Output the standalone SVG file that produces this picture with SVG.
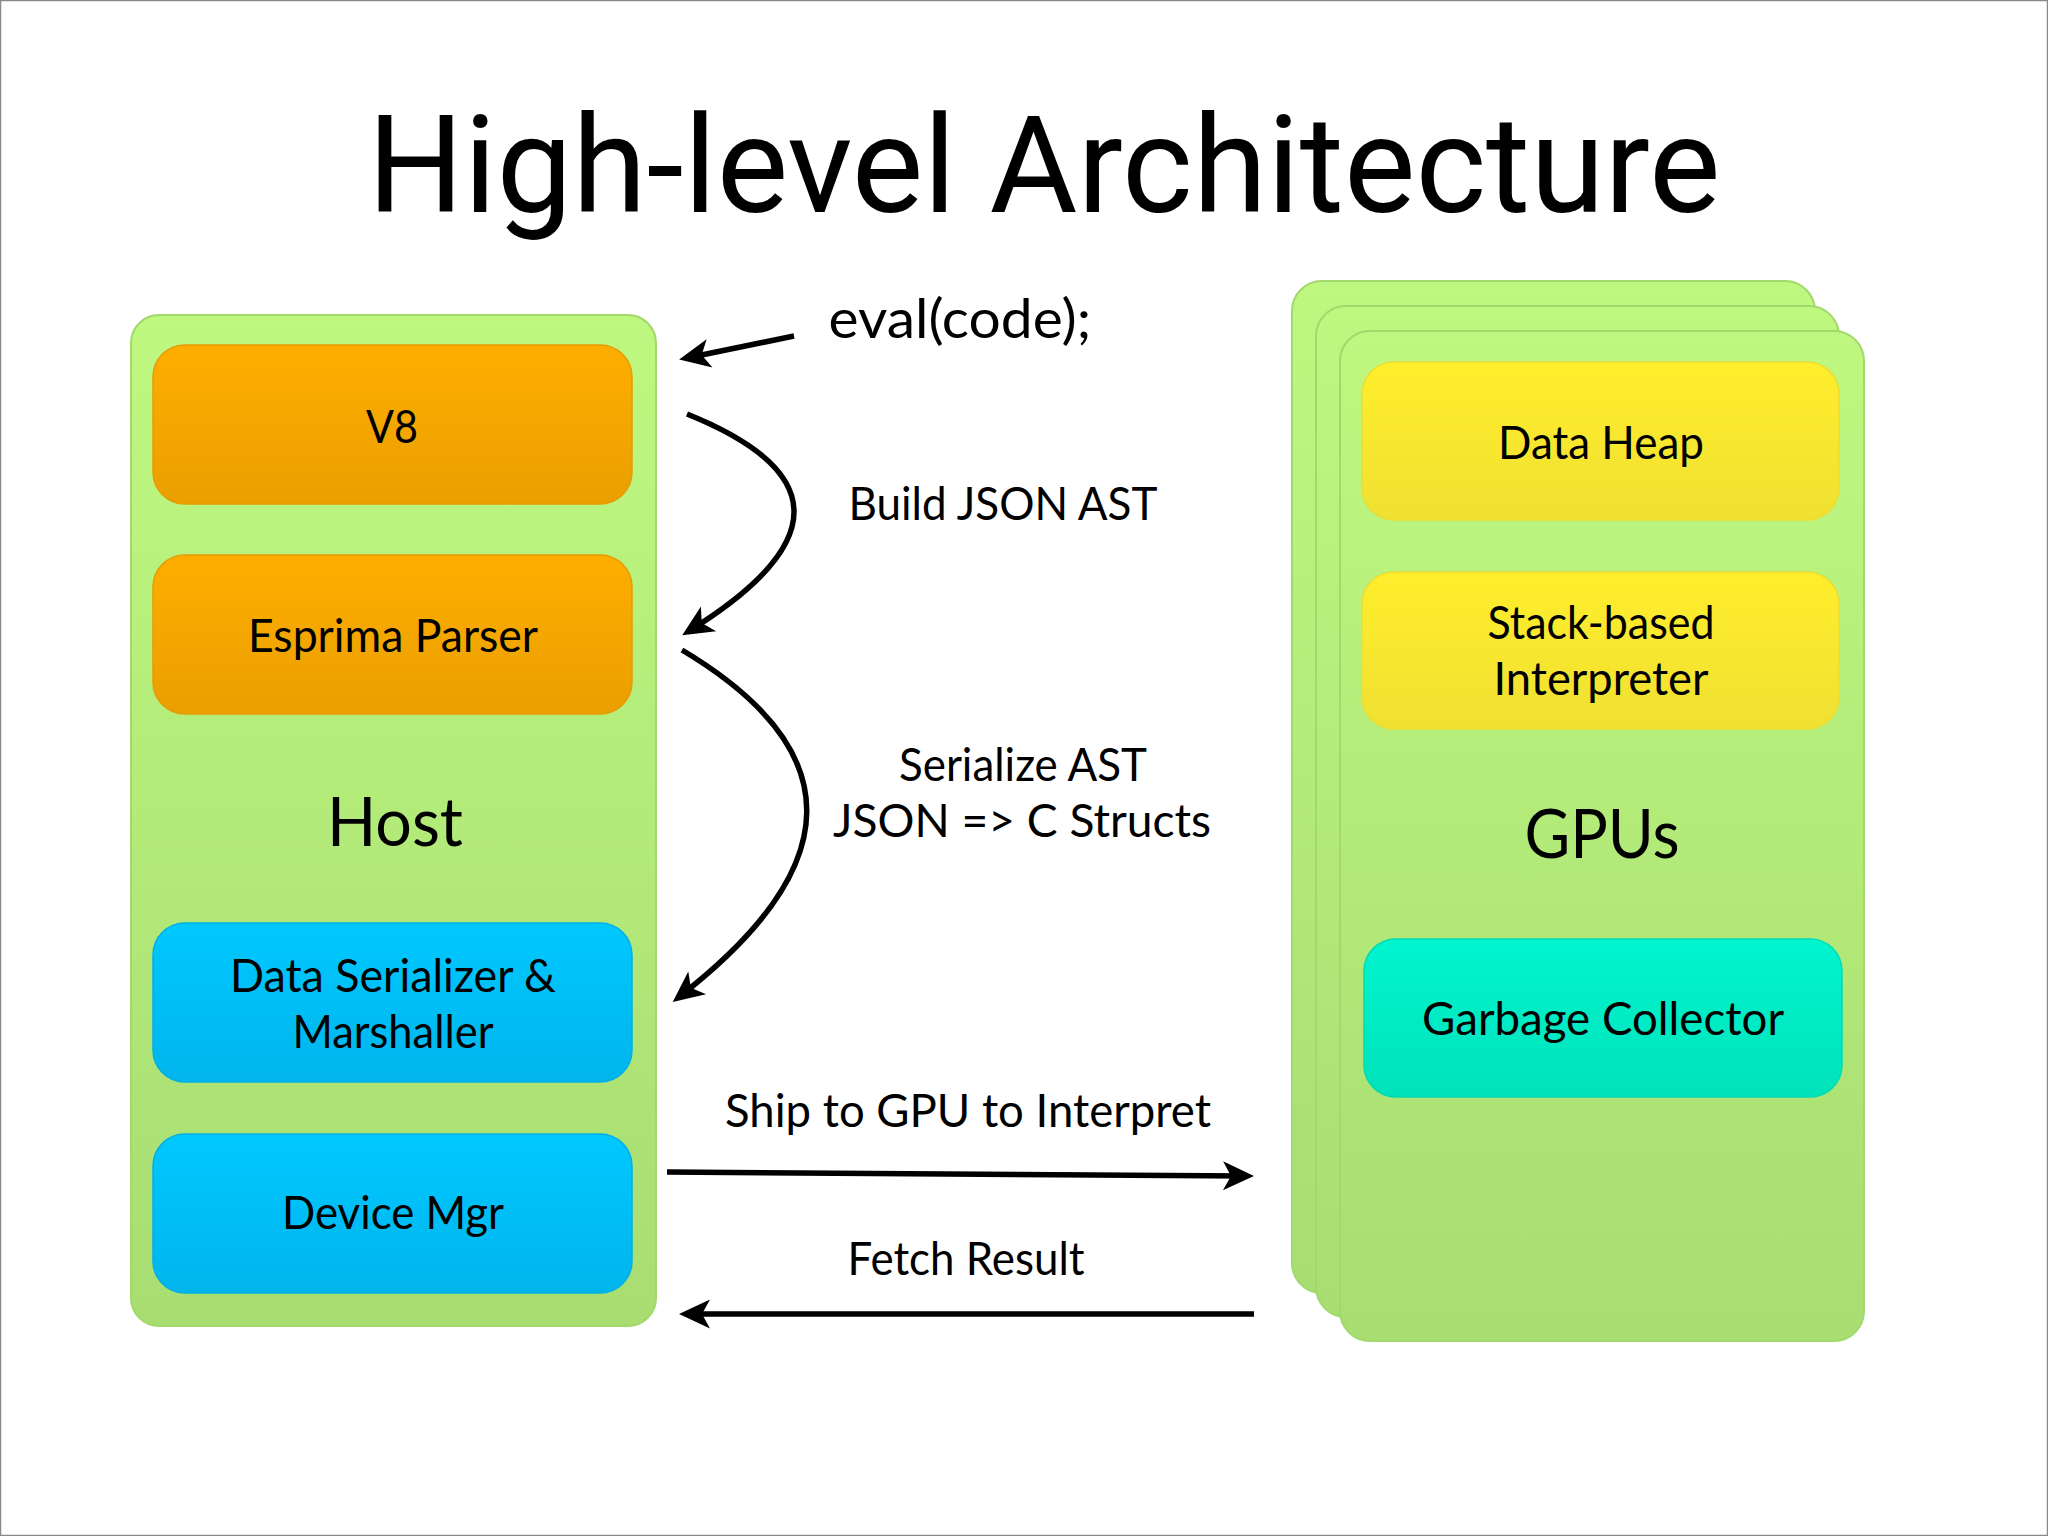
<svg xmlns="http://www.w3.org/2000/svg" width="2048" height="1536" viewBox="0 0 2048 1536">
<defs>
<linearGradient id="gGreen" x1="0" y1="0" x2="0" y2="1">
<stop offset="0" stop-color="#BEF880"/><stop offset="1" stop-color="#A8DD72"/>
</linearGradient>
<linearGradient id="gOrange" x1="0" y1="0" x2="0" y2="1">
<stop offset="0" stop-color="#FFAE00"/><stop offset="1" stop-color="#EA9F00"/>
</linearGradient>
<linearGradient id="gBlue" x1="0" y1="0" x2="0" y2="1">
<stop offset="0" stop-color="#00C8FF"/><stop offset="1" stop-color="#00B5EC"/>
</linearGradient>
<linearGradient id="gYellow" x1="0" y1="0" x2="0" y2="1">
<stop offset="0" stop-color="#FFEE2C"/><stop offset="1" stop-color="#F0E032"/>
</linearGradient>
<linearGradient id="gTeal" x1="0" y1="0" x2="0" y2="1">
<stop offset="0" stop-color="#00F5CF"/><stop offset="1" stop-color="#00E2BA"/>
</linearGradient>
<marker id="ah" viewBox="-32 -16 34 32" refX="-8" refY="0" markerWidth="34" markerHeight="32" markerUnits="userSpaceOnUse" orient="auto">
<path d="M0,0 L-31,-14.5 L-23,0 L-31,14.5 Z" fill="#000"/>
</marker>
</defs>
<style>
.panel{fill:url(#gGreen);stroke:#A2D86C;stroke-width:2}
.orange{fill:url(#gOrange);stroke:#E79C00;stroke-width:1.5}
.blue{fill:url(#gBlue);stroke:#00B0E6;stroke-width:1.5}
.yellow{fill:url(#gYellow);stroke:#EEDD30;stroke-width:1.5}
.teal{fill:url(#gTeal);stroke:#00DAB5;stroke-width:1.5}
text{font-family:Lato,"Open Sans","DejaVu Sans",sans-serif;fill:#000;text-anchor:middle}
.lbl{font-size:47px}
.big{font-size:68px}
.title{font-family:Roboto,"Liberation Sans",sans-serif;font-size:135px}
.conn{fill:none;stroke:#000;stroke-width:5.5;marker-end:url(#ah)}
</style>
<rect x="0" y="0" width="2048" height="1536" fill="#FFFFFF"/>
<rect x="0.5" y="0.5" width="2047" height="1535" fill="none" stroke="#8A8A8A" stroke-width="1.5"/>

<text class="title" x="1044" y="212" textLength="1353" lengthAdjust="spacingAndGlyphs">High-level Architecture</text>

<g id="host">
<rect class="panel" x="131" y="315" width="525" height="1011" rx="28"/>
<text class="big" x="395" y="846" textLength="136" lengthAdjust="spacingAndGlyphs">Host</text>
</g>
<g id="v8">
<rect class="orange" x="153" y="345" width="479" height="159" rx="32"/>
<text class="lbl" x="392" y="443" textLength="52" lengthAdjust="spacingAndGlyphs">V8</text>
</g>
<g id="esprima">
<rect class="orange" x="153" y="555" width="479" height="159" rx="32"/>
<text class="lbl" x="393" y="652" textLength="290" lengthAdjust="spacingAndGlyphs">Esprima Parser</text>
</g>
<g id="serializer">
<rect class="blue" x="153" y="923" width="479" height="159" rx="32"/>
<text class="lbl" x="393" y="992" textLength="326" lengthAdjust="spacingAndGlyphs">Data Serializer &amp;</text>
<text class="lbl" x="393" y="1048" textLength="201" lengthAdjust="spacingAndGlyphs">Marshaller</text>
</g>
<g id="devicemgr">
<rect class="blue" x="153" y="1134" width="479" height="159" rx="32"/>
<text class="lbl" x="393" y="1229" textLength="222" lengthAdjust="spacingAndGlyphs">Device Mgr</text>
</g>

<g id="gpus">
<rect class="panel" x="1292" y="281" width="523" height="1012" rx="30"/>
<rect class="panel" x="1316" y="306" width="523" height="1011" rx="30"/>
<rect class="panel" x="1340" y="331" width="524" height="1010" rx="30"/>
<text class="big" x="1602" y="858" textLength="155" lengthAdjust="spacingAndGlyphs">GPUs</text>
</g>
<g id="dataheap">
<rect class="yellow" x="1362" y="362" width="477" height="158" rx="32"/>
<text class="lbl" x="1601" y="459" textLength="206" lengthAdjust="spacingAndGlyphs">Data Heap</text>
</g>
<g id="interpreter">
<rect class="yellow" x="1362" y="572" width="477" height="157" rx="32"/>
<text class="lbl" x="1601" y="639" textLength="227" lengthAdjust="spacingAndGlyphs">Stack-based</text>
<text class="lbl" x="1601" y="695" textLength="215" lengthAdjust="spacingAndGlyphs">Interpreter</text>
</g>
<g id="gc">
<rect class="teal" x="1364" y="939" width="478" height="158" rx="32"/>
<text class="lbl" x="1603" y="1035" textLength="362" lengthAdjust="spacingAndGlyphs">Garbage Collector</text>
</g>

<g id="connectors">
<path class="conn" d="M794,336 L687,358"/>
<path class="conn" d="M687,414 Q900,500 689,631"/>
<path class="conn" d="M682,650 Q933,800 679,997"/>
<path class="conn" d="M667,1172 L1246,1176"/>
<path class="conn" d="M1254,1314 L687,1314"/>
</g>

<g id="labels">
<text x="960" y="338" style="font-size:54px" textLength="263" lengthAdjust="spacingAndGlyphs">eval(code);</text>
<text class="lbl" x="1003" y="520" textLength="309" lengthAdjust="spacingAndGlyphs">Build JSON AST</text>
<text class="lbl" x="1023" y="781" textLength="248" lengthAdjust="spacingAndGlyphs">Serialize AST</text>
<text class="lbl" x="1022" y="837" textLength="378" lengthAdjust="spacingAndGlyphs">JSON =&gt; C Structs</text>
<text class="lbl" x="968" y="1127" textLength="486" lengthAdjust="spacingAndGlyphs">Ship to GPU to Interpret</text>
<text class="lbl" x="966" y="1275" textLength="237" lengthAdjust="spacingAndGlyphs">Fetch Result</text>
</g>
</svg>
